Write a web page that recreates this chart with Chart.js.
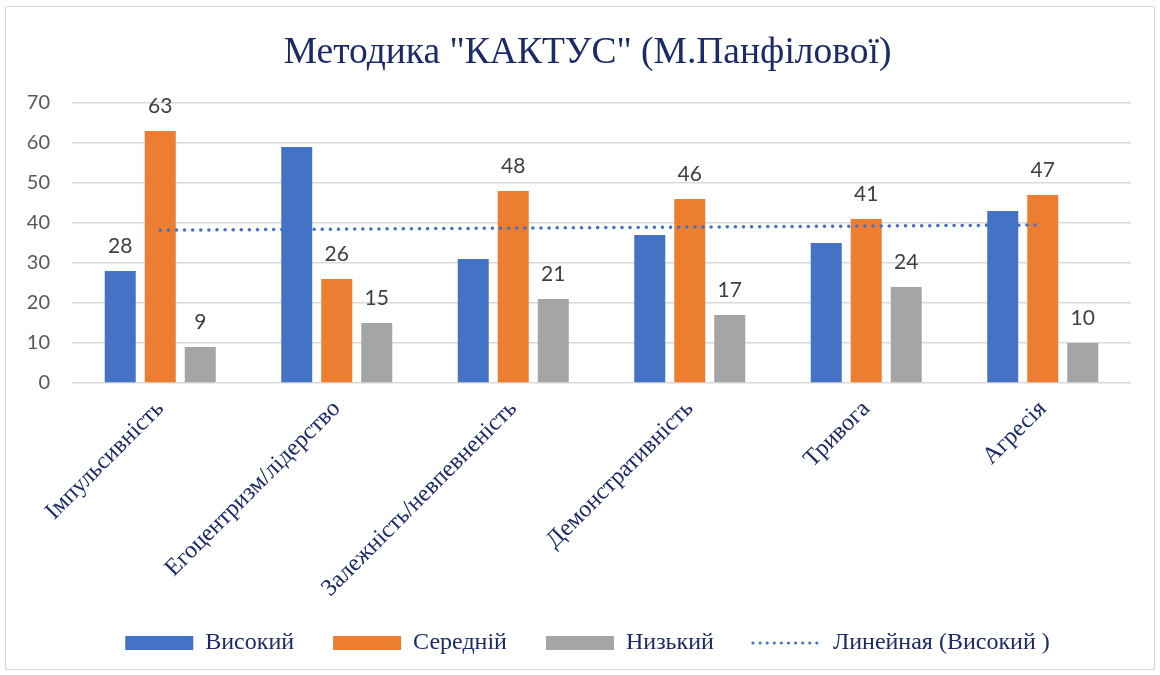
<!DOCTYPE html>
<html><head><meta charset="utf-8">
<script src="https://cdn.jsdelivr.net/npm/chart.js@4.4.1/dist/chart.umd.min.js"></script>
<style>html,body{margin:0;padding:0;background:#fff;}#wrap{width:1160px;height:675px;}</style>
</head><body><div id="wrap"><canvas id="c" width="1160" height="675"></canvas></div>
<script>
const categories = ["Імпульсивність","Егоцентризм/лідерство","Залежність/невпевненість","Демонстративність","Тривога","Агресія"];
const high = [28, 59, 31, 37, 35, 43];
const medium = [63, 26, 48, 46, 41, 47];
const low = [9, 15, 21, 17, 24, 10];
const trendHigh = [38.2, null, null, null, null, 39.5];
const highLabelShown = [true, false, false, false, false, false];
const yTicks = [0, 10, 20, 30, 40, 50, 60, 70];

const NAVY = '#1b2a68';
const SERIF = '"Liberation Serif", "Times New Roman", serif';

const frame = {
  id: 'frame',
  beforeDraw(chart) {
    const ctx = chart.ctx;
    ctx.save();
    ctx.fillStyle = '#fff';
    ctx.fillRect(0, 0, chart.width, chart.height);
    ctx.strokeStyle = '#d9d9d9';
    ctx.lineWidth = 1;
    ctx.strokeRect(5.5, 6.5, 1149, 663);
    ctx.restore();
    // let tick labels extend beyond their fixed-size axis boxes
    Object.values(chart.scales).forEach(s => { s._computeLabelArea = () => undefined; });
  }
};

const valueLabels = {
  id: 'valueLabels',
  afterDatasetsDraw(chart) {
    const ctx = chart.ctx;
    ctx.save();
    ctx.font = '21px Lato';
    ctx.fillStyle = '#404040';
    ctx.textAlign = 'center';
    ctx.textBaseline = 'bottom';
    [0, 1, 2].forEach(di => {
      const meta = chart.getDatasetMeta(di);
      const vals = chart.data.datasets[di].data;
      meta.data.forEach((bar, i) => {
        if (di === 0 && !highLabelShown[i]) return;
        ctx.fillText(String(vals[i]), bar.x, bar.y - 14);
      });
    });
    ctx.restore();
  }
};

new Chart(document.getElementById('c'), {
  data: {
    labels: categories,
    datasets: [
      {type: 'bar', label: 'Високий', data: high, backgroundColor: '#4472C4', order: 2,
       categoryPercentage: 0.68, barPercentage: 0.775},
      {type: 'bar', label: 'Середній', data: medium, backgroundColor: '#ED7D31', order: 2,
       categoryPercentage: 0.68, barPercentage: 0.775},
      {type: 'bar', label: 'Низький', data: low, backgroundColor: '#A5A5A5', order: 2,
       categoryPercentage: 0.68, barPercentage: 0.775},
      {type: 'line', label: 'Линейная (Високий )', data: trendHigh, spanGaps: true, order: 1,
       borderColor: '#4472C4', borderWidth: 3.5, borderDash: [0.1, 8], borderCapStyle: 'round',
       pointRadius: 0, fill: false, tension: 0}
    ]
  },
  options: {
    responsive: false,
    animation: false,
    devicePixelRatio: 1,
    layout: {padding: {left: 44, right: 29, top: 10, bottom: 10}},
    plugins: {
      title: {display: true, text: 'Методика "КАКТУС" (М.Панфілової)',
        font: {family: SERIF, size: 37.5, weight: 'normal'},
        color: NAVY, padding: {top: 21, bottom: 27}},
      legend: {position: 'bottom',
        labels: {
          font: {family: SERIF, size: 24},
          color: NAVY, padding: 39, boxWidth: 68, boxHeight: 14,
          usePointStyle: true, pointStyleWidth: 68,
          generateLabels(chart) {
            return chart.data.datasets.map((ds, i) => ({
              text: ds.label,
              fillStyle: ds.type === 'line' ? 'rgba(0,0,0,0)' : ds.backgroundColor,
              strokeStyle: ds.type === 'line' ? ds.borderColor : ds.backgroundColor,
              lineWidth: ds.type === 'line' ? 3 : 0,
              lineDash: ds.type === 'line' ? [0.1, 7] : [],
              lineCap: 'round',
              pointStyle: ds.type === 'line' ? 'line' : 'rect',
              fontColor: NAVY,
              hidden: false,
              datasetIndex: i
            }));
          }
        }},
      tooltip: {enabled: false}
    },
    scales: {
      x: {
        grid: {display: false},
        border: {display: false},
        ticks: {color: NAVY, minRotation: 45, maxRotation: 45, padding: 4,
          font: {family: SERIF, size: 24}},
        afterFit(scale) { scale.height = 209; }
      },
      y: {
        min: 0, max: 70,
        afterBuildTicks(scale) { scale.ticks = yTicks.map(v => ({value: v})); },
        grid: {color: '#d9d9d9', lineWidth: 1.5, drawTicks: false},
        border: {display: false},
        ticks: {color: '#595959', padding: 22, font: {family: 'Lato', size: 20}},
        afterFit(scale) { scale.width = 28; }
      }
    }
  },
  plugins: [frame, valueLabels]
});
</script>
</body></html>
